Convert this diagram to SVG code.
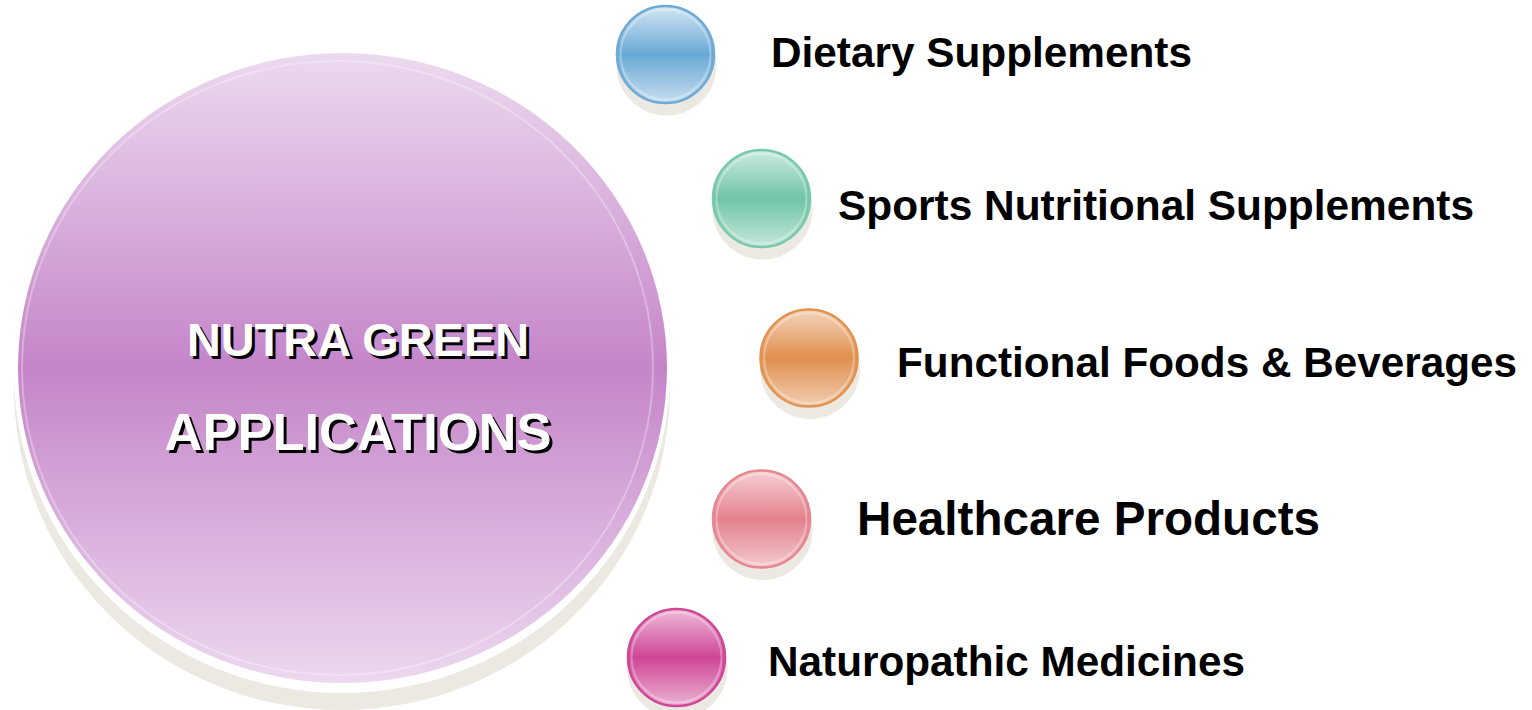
<svg xmlns="http://www.w3.org/2000/svg" width="1532" height="710" viewBox="0 0 1532 710">
<style>
.lbl{font-family:"Liberation Sans",Arial,sans-serif;font-weight:bold;fill:#000;}
.big{font-family:"Liberation Sans",Arial,sans-serif;font-weight:bold;}
.shd{fill:#ece9e2;}
.ring{fill:none;stroke:#ffffff;stroke-opacity:0.3;stroke-width:2;}
</style>
<defs>
<linearGradient id="gMain" x1="0" y1="0" x2="0" y2="1">
<stop offset="0" stop-color="#ecdaef"/>
<stop offset="0.5" stop-color="#c585c9"/>
<stop offset="1" stop-color="#ecd8ef"/>
</linearGradient>
<linearGradient id="gBlue" x1="0" y1="0" x2="0" y2="1">
<stop offset="0" stop-color="#d3e6f3"/>
<stop offset="0.5" stop-color="#69a9d6"/>
<stop offset="1" stop-color="#c7ddef"/>
</linearGradient>
<linearGradient id="gGreen" x1="0" y1="0" x2="0" y2="1">
<stop offset="0" stop-color="#cdebe0"/>
<stop offset="0.5" stop-color="#70c5a6"/>
<stop offset="1" stop-color="#c4e7da"/>
</linearGradient>
<linearGradient id="gOrange" x1="0" y1="0" x2="0" y2="1">
<stop offset="0" stop-color="#f4d4bb"/>
<stop offset="0.5" stop-color="#e0904f"/>
<stop offset="1" stop-color="#f1cdb1"/>
</linearGradient>
<linearGradient id="gPink" x1="0" y1="0" x2="0" y2="1">
<stop offset="0" stop-color="#f6d0d5"/>
<stop offset="0.5" stop-color="#e4818c"/>
<stop offset="1" stop-color="#f3c9ce"/>
</linearGradient>
<linearGradient id="gMag" x1="0" y1="0" x2="0" y2="1">
<stop offset="0" stop-color="#efbbda"/>
<stop offset="0.5" stop-color="#cf4696"/>
<stop offset="1" stop-color="#ebb2d3"/>
</linearGradient>
</defs>
<rect width="1532" height="710" fill="#ffffff"/>

<g id="connectors"></g>

<g id="center-node">
<ellipse class="shd" cx="342" cy="388" rx="328" ry="322"/>
<ellipse cx="342" cy="371" rx="328" ry="322" fill="#ffffff"/>
<ellipse cx="342.5" cy="368" rx="324.5" ry="315" fill="url(#gMain)"/>
<ellipse class="ring" cx="337.5" cy="368" rx="315.5" ry="307"/>
<text class="big" x="361" y="359" font-size="47" text-anchor="middle" textLength="342" lengthAdjust="spacingAndGlyphs" fill="#000">NUTRA GREEN</text>
<text class="big" x="358" y="356" font-size="47" text-anchor="middle" textLength="342" lengthAdjust="spacingAndGlyphs" fill="#fff">NUTRA GREEN</text>
<text class="big" x="361" y="453" font-size="52" text-anchor="middle" textLength="387" lengthAdjust="spacingAndGlyphs" fill="#000">APPLICATIONS</text>
<text class="big" x="358" y="450" font-size="52" text-anchor="middle" textLength="387" lengthAdjust="spacingAndGlyphs" fill="#fff">APPLICATIONS</text>
</g>

<g id="node-dietary">
<circle class="shd" cx="666.5" cy="65.5" r="50"/>
<circle cx="665.5" cy="54.5" r="48.5" fill="url(#gBlue)" stroke="#6eaad6" stroke-width="2.5"/>
<circle class="ring" cx="665.5" cy="54.5" r="45"/>
<text class="lbl" x="771" y="67" font-size="42" textLength="421" lengthAdjust="spacingAndGlyphs">Dietary Supplements</text>
</g>

<g id="node-sports">
<circle class="shd" cx="762.5" cy="209.5" r="50"/>
<circle cx="761.5" cy="198.5" r="48.5" fill="url(#gGreen)" stroke="#78c9ab" stroke-width="2.5"/>
<circle class="ring" cx="761.5" cy="198.5" r="45"/>
<text class="lbl" x="838" y="220" font-size="42" textLength="636" lengthAdjust="spacingAndGlyphs">Sports Nutritional Supplements</text>
</g>

<g id="node-functional">
<circle class="shd" cx="810" cy="369" r="50"/>
<circle cx="809" cy="358" r="48.5" fill="url(#gOrange)" stroke="#e1934f" stroke-width="2.5"/>
<circle class="ring" cx="809" cy="358" r="45"/>
<text class="lbl" x="897" y="377" font-size="42" textLength="620" lengthAdjust="spacingAndGlyphs">Functional Foods &amp; Beverages</text>
</g>

<g id="node-healthcare">
<circle class="shd" cx="762.5" cy="530" r="50"/>
<circle cx="761.5" cy="519" r="48.5" fill="url(#gPink)" stroke="#e6878f" stroke-width="2.5"/>
<circle class="ring" cx="761.5" cy="519" r="45"/>
<text class="lbl" x="857" y="535" font-size="47.5" textLength="463" lengthAdjust="spacingAndGlyphs">Healthcare Products</text>
</g>

<g id="node-naturopathic">
<circle class="shd" cx="677.5" cy="668.5" r="50"/>
<circle cx="676.5" cy="657.5" r="48.5" fill="url(#gMag)" stroke="#d04797" stroke-width="2.5"/>
<circle class="ring" cx="676.5" cy="657.5" r="45"/>
<text class="lbl" x="768" y="676" font-size="42" textLength="477" lengthAdjust="spacingAndGlyphs">Naturopathic Medicines</text>
</g>
</svg>
